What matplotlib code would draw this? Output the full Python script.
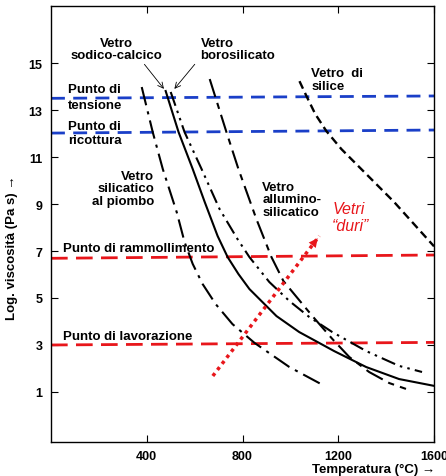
import matplotlib
matplotlib.use("Agg")
import matplotlib.pyplot as plt

plt.rcParams['font.family'] = ['Liberation Sans', 'DejaVu Sans']

# curve data (temperatura in °C, log viscosita)
t_piombo = [379, 425, 467, 525, 558, 592, 633, 688, 758, 850, 996, 1142]
v_piombo = [13.98, 12.06, 10.49, 8.66, 7.38, 6.45, 5.6, 4.74, 3.89, 3.09, 2.06, 1.26]

t_sodico = [479, 533, 592, 642, 696, 738, 783, 829, 942, 1037, 1183, 1317, 1454, 1600]
v_sodico = [13.81, 12.06, 10.49, 9.09, 7.64, 6.74, 6.02, 5.38, 4.23, 3.55, 2.74, 2.06, 1.55, 1.26]

t_boro = [500, 558, 629, 704, 779, 829, 912, 996, 1079, 1175, 1317, 1454, 1550]
v_boro = [13.77, 12.06, 10.49, 8.79, 7.51, 6.74, 5.68, 4.87, 4.19, 3.55, 2.74, 2.11, 1.85]

t_allum = [663, 733, 783, 858, 921, 971, 1092, 1175, 1246, 1329, 1413, 1483]
v_allum = [14.32, 12.06, 10.49, 8.36, 6.74, 5.72, 4.23, 3.26, 2.49, 1.85, 1.38, 1.13]

t_silice = [1038, 1067, 1104, 1150, 1213, 1296, 1433, 1600]
v_silice = [14.23, 13.6, 12.83, 12.11, 11.34, 10.49, 9.09, 7.2]

# punti caratteristici (valore a sinistra, a destra)
t_rif = [0, 1600]
v_tensione = [13.5, 13.6]
v_ricottura = [12.02, 12.15]
v_rammoll = [6.69, 6.83]
v_lavoraz = [3.0, 3.11]

# freccia "vetri duri"
t_freccia = [676, 1121]
v_freccia = [1.68, 7.64]

x_ticks = [400, 800, 1200, 1600]
y_ticks = [1, 3, 5, 7, 9, 11, 13, 15]

fig = plt.figure(figsize=(4.46, 4.77), dpi=100)
ax = fig.add_axes([51/446, 34/477, 383/446, 436/477])

blu = '#1a3fc8'
rosso = '#e8161b'
lw = 1.5

ax.plot(t_rif, v_tensione, color=blu, lw=2.0, dashes=(5, 3))
ax.plot(t_rif, v_ricottura, color=blu, lw=2.0, dashes=(5, 3))
ax.plot(t_rif, v_rammoll, color=rosso, lw=2.0, dashes=(6, 3))
ax.plot(t_rif, v_lavoraz, color=rosso, lw=2.0, dashes=(6, 3))

ax.plot(t_piombo, v_piombo, color='black', lw=lw, dashes=(9, 3, 1.5, 3))
ax.plot(t_sodico, v_sodico, color='black', lw=lw)
ax.plot(t_boro, v_boro, color='black', lw=lw, dashes=(7, 2.5, 1.2, 2.5, 1.2, 2.5))
ax.plot(t_allum, v_allum, color='black', lw=lw, dashes=(9, 3, 3, 3))
ax.plot(t_silice, v_silice, color='black', lw=lw + 0.2, dashes=(3.5, 2))

# freccia rossa tratteggiata
ax.plot(t_freccia, v_freccia, color=rosso, lw=2.5, dashes=(1, 1.2))
ax.annotate('', xy=(t_freccia[1], v_freccia[1]),
            xytext=(t_freccia[1] - 30, v_freccia[1] - 0.4),
            arrowprops=dict(arrowstyle='-|>', color=rosso, lw=0,
                            mutation_scale=16))

fs = 9.5
kw = dict(fontsize=fs, fontweight='bold', linespacing=1.05)
ax.text(275, 15.6, 'Vetro\nsodico-calcico', ha='center', va='center', **kw)
ax.text(625, 15.6, 'Vetro\nborosilicato', ha='left', va='center', **kw)
ax.text(71, 13.55, 'Punto di\ntensione', ha='left', va='center',
        fontsize=fs, fontweight='bold', linespacing=1.4)
ax.text(71, 12.02, 'Punto di\nricottura', ha='left', va='center',
        fontsize=fs, fontweight='bold', linespacing=1.2)
ax.text(1088, 14.3, 'Vetro  di\nsilice', ha='left', va='center', **kw)
ax.text(431, 9.68, 'Vetro\nsilicatico\nal piombo', ha='right', va='center',
        multialignment='right', **kw)
ax.text(883, 9.21, 'Vetro\nallumino-\nsilicatico', ha='left', va='center', **kw)
ax.text(50, 7.13, 'Punto di rammollimento', ha='left', va='center', **kw)
ax.text(50, 3.38, 'Punto di lavorazione', ha='left', va='center', **kw)
ax.text(1175, 8.45, 'Vetri\n\u201cduri\u201d', ha='left', va='center',
        color=rosso, fontsize=11.5, fontstyle='italic', linespacing=1.1)

ax.annotate('', xy=(479, 13.81), xytext=(383, 15.04),
            arrowprops=dict(arrowstyle='->', color='black', lw=0.6))
ax.annotate('', xy=(508, 13.81), xytext=(608, 15.04),
            arrowprops=dict(arrowstyle='->', color='black', lw=0.6))

ax.set_xlim(0, 1600)
ax.set_ylim(-1.13, 17.43)
ax.set_xticks(x_ticks)
ax.set_yticks(y_ticks)
ax.set_xticklabels([str(v) for v in x_ticks], fontsize=9, fontweight='bold')
ax.set_yticklabels([str(v) for v in y_ticks], fontsize=9, fontweight='bold')
ax.tick_params(direction='in', length=5, width=0.8, top=True, right=True, pad=6)
for s in ax.spines.values():
    s.set_linewidth(1.0)

ax.set_ylabel('Log. viscosità (Pa s) \u2192', fontsize=9.5, fontweight='bold')
ax.yaxis.set_label_coords(-0.085, 0.447)
fig.text(435/446, 7/477, 'Temperatura (\u00b0C) \u2192', ha='right', va='center',
         fontsize=9.5, fontweight='bold')

fig.savefig('out.png', dpi=100)
